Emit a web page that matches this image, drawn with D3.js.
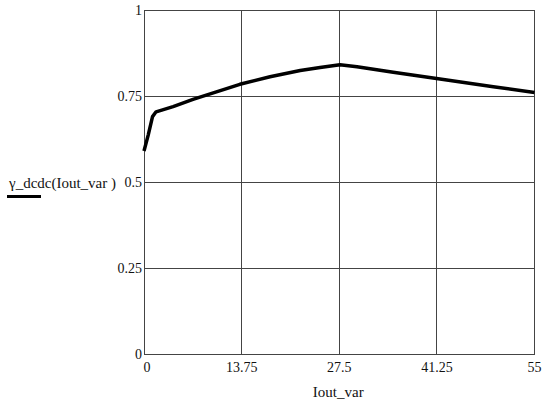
<!DOCTYPE html>
<html><head><meta charset="utf-8">
<script src="https://cdn.jsdelivr.net/npm/d3@7"></script>
<style>body{margin:0;background:#fff}svg{display:block}
svg text{font-family:"Liberation Serif","DejaVu Serif",serif;font-size:14px;fill:#111}</style>
</head><body>
<script>
const xVals = [0, 0.6, 1.2, 1.7, 4.1, 6.9, 10.2, 13.5, 17.75, 22.0, 24.8, 27.6, 30.0, 35.1, 41.2, 49.2, 55];
const yVals = [0.59, 0.637, 0.690, 0.704, 0.719, 0.740, 0.762, 0.784, 0.806, 0.824, 0.833, 0.841, 0.835, 0.819, 0.801, 0.777, 0.760];
const xTicks = [0, 13.75, 27.5, 41.25, 55];
const yTicks = [0, 0.25, 0.5, 0.75, 1];
const xTickLabels = ["0", "13.75", "27.5", "41.25", "55"];
const yTickLabels = ["0", "0.25", "0.5", "0.75", "1"];
const xTitle = "Iout_var";
const yTitle = "γ_dcdc(Iout_var )";

const W = 550, H = 404;
const L = 144, R = 534.5, T = 10, B = 354;
const svg = d3.select("body").append("svg").attr("width", W).attr("height", H);
const x = d3.scaleLinear().domain([0, 55]).range([L, R]);
const y = d3.scaleLinear().domain([0, 1]).range([B, T]);
const gridColor = "#444";

svg.append("g").selectAll("line").data(xTicks).join("line")
  .attr("x1", d => x(d)).attr("x2", d => x(d)).attr("y1", T).attr("y2", B)
  .attr("stroke", gridColor).attr("stroke-width", 1).attr("shape-rendering", "crispEdges");
svg.append("g").selectAll("line").data(yTicks).join("line")
  .attr("y1", d => y(d)).attr("y2", d => y(d)).attr("x1", L).attr("x2", R)
  .attr("stroke", gridColor).attr("stroke-width", 1).attr("shape-rendering", "crispEdges");

svg.append("g").selectAll("text").data(yTicks).join("text")
  .attr("x", L - 2).attr("y", d => y(d)).attr("dy", "0.35em")
  .attr("text-anchor", "end").text((d, i) => yTickLabels[i]);
svg.append("g").selectAll("text").data(xTicks).join("text")
  .attr("x", (d, i) => i === 0 ? x(d) + 3 : x(d)).attr("y", 372)
  .attr("text-anchor", "middle").text((d, i) => xTickLabels[i]);

svg.append("text").attr("x", (L + R) / 2 - 1).attr("y", 397)
  .attr("text-anchor", "middle").style("font-size", "15px").text(xTitle);
svg.append("text").attr("x", 9).attr("y", 188).style("font-size", "15px").text(yTitle);
svg.append("line").attr("x1", 7).attr("x2", 41).attr("y1", 196.5).attr("y2", 196.5)
  .attr("stroke", "#000").attr("stroke-width", 3);

const data = xVals.map((v, i) => [v, yVals[i]]);
svg.append("path").datum(data)
  .attr("d", d3.line().x(d => x(d[0])).y(d => y(d[1])))
  .attr("fill", "none").attr("stroke", "#000").attr("stroke-width", 3.5)
  .attr("stroke-linejoin", "round");
</script>
</body></html>
